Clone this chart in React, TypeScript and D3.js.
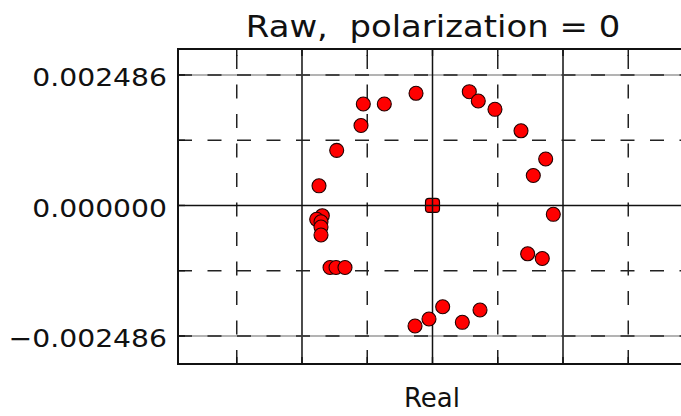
import React from "react";
import * as d3 from "d3";

const title = "Raw,  polarization = 0";
const xLabel = "Real";
const yTickValues = [0.002486, 0, -0.002486];
const yTickLabels = ["0.002486", "0.000000", "\u22120.002486"];
const yMinorTicks = [0.001243, -0.001243];
const xMajorTicks = [-0.002486, 0, 0.002486];
const xMinorTicks = [-0.003729, -0.001243, 0.001243, 0.003729];

const realValues = [
  -0.000314, 0.000701, 0.000872, 0.00119, -0.000918, -0.001318, -0.001362, 0.001686,
  -0.001825, 0.002156, 0.00192, -0.002162, 0.002301, -0.002099, -0.002206, -0.002124,
  -0.002124, -0.002124, 0.001813, 0.002091, -0.001952, -0.001838, -0.001667, -0.000333,
  -0.000067, 0.000194, 0.000568, 0.000905,
];
const imagValues = [
  0.002136, 0.002167, 0.00199, 0.001831, 0.001932, 0.001932, 0.001523, 0.001422,
  0.00105, 0.000885, 0.00057, 0.000374, -0.000169, -0.000195, -0.000264, -0.00031,
  -0.00041, -0.000563, -0.000921, -0.00101, -0.001182, -0.001182, -0.001182, -0.002296,
  -0.002163, -0.001929, -0.002226, -0.001991,
];
const originReal = [0];
const originImag = [0];

export default function App() {
  const left = 178, right = 687, top = 49, bottom = 364;
  const x = d3.scaleLinear().domain([-0.004848, 0.004848]).range([left, right]);
  const y = d3.scaleLinear().domain([-0.00302, 0.00298]).range([bottom, top]);
  const sx = 1.13;
  const dash = "14,15.5";
  const gridW = 1.5;

  return (
    <svg
      width={681}
      height={416}
      style={{ position: "absolute", left: 0, top: 0, background: "#fff" }}
      fontFamily="DejaVu Sans"
    >
      <rect x={0} y={0} width={681} height={416} fill="#fff" />
      {xMinorTicks.map((t, i) => (
        <line key={"xm" + i} x1={x(t)} x2={x(t)} y1={bottom} y2={top} stroke="#222" strokeWidth={gridW} strokeDasharray={dash} />
      ))}
      {xMajorTicks.filter((t) => t !== 0).map((t, i) => (
        <line key={"xM" + i} x1={x(t)} x2={x(t)} y1={bottom} y2={top} stroke="#111" strokeWidth={gridW} />
      ))}
      {yMinorTicks.map((t, i) => (
        <line key={"ym" + i} x1={left} x2={681} y1={y(t)} y2={y(t)} stroke="#222" strokeWidth={gridW} strokeDasharray={dash} />
      ))}
      {yTickValues.filter((t) => t !== 0).map((t, i) => (
        <g key={"yM" + i}>
          <line x1={left} x2={681} y1={y(t)} y2={y(t)} stroke="#9a9a9a" strokeWidth={gridW} />
          <line x1={left} x2={681} y1={y(t)} y2={y(t)} stroke="#222" strokeWidth={gridW} strokeDasharray={dash} />
        </g>
      ))}
      {originReal.map((r, i) => (
        <rect key={"o" + i} x={x(r) - 7} y={y(originImag[i]) - 7} width={14} height={14} rx={3.5} fill="#ff0000" stroke="#1a0000" strokeWidth={1.2} />
      ))}
      <line x1={x(0)} x2={x(0)} y1={bottom} y2={top} stroke="#111" strokeWidth={gridW} />
      <line x1={left} x2={681} y1={y(0)} y2={y(0)} stroke="#111" strokeWidth={gridW} />
      {realValues.map((r, i) => (
        <circle key={"p" + i} cx={x(r)} cy={y(imagValues[i])} r={7} fill="#ff0000" stroke="#220000" strokeWidth={1.1} />
      ))}
      {[...xMajorTicks, ...xMinorTicks].map((t, i) => (
        <g key={"xt" + i}>
          <line x1={x(t)} x2={x(t)} y1={top} y2={top + 7} stroke="#111" strokeWidth={1.4} />
          <line x1={x(t)} x2={x(t)} y1={bottom} y2={bottom - 7} stroke="#111" strokeWidth={1.4} />
        </g>
      ))}
      {[...yTickValues, ...yMinorTicks].map((t, i) => (
        <line key={"yt" + i} x1={left} x2={left + 7} y1={y(t)} y2={y(t)} stroke="#111" strokeWidth={1.4} />
      ))}
      <path d={`M${681 + 2},${top}H${left}V${bottom}H${681 + 2}`} fill="none" stroke="#111" strokeWidth={2} />
      {yTickValues.map((t, i) => (
        <text key={"yl" + i} transform={`translate(167,${y(t) + 11.5}) scale(${sx},1)`} textAnchor="end" fontSize={25} fill="#111">
          {yTickLabels[i]}
        </text>
      ))}
      <text
        transform={`translate(433,37) scale(${sx},1)`}
        textAnchor="middle"
        fontSize={30}
        fill="#111"
        style={{ whiteSpace: "pre" }}
      >
        {title}
      </text>
      <text x={432} y={406.5} textAnchor="middle" fontSize={26} fill="#111">
        {xLabel}
      </text>
    </svg>
  );
}
